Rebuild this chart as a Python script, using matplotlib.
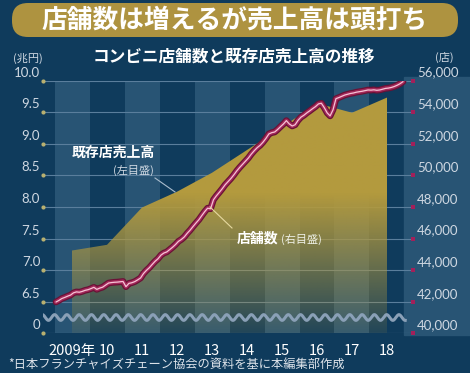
import numpy as np
import matplotlib.pyplot as plt
from matplotlib.patches import FancyBboxPatch, Rectangle
from matplotlib.lines import Line2D
from matplotlib.transforms import ScaledTranslation

plt.rcParams['font.family'] = ['Noto Sans CJK JP', 'DejaVu Sans']

# data
years = np.arange(2009, 2019)
year_labels = ['2009年', '10', '11', '12', '13', '14', '15', '16', '17', '18']
# existing-store sales, trillion yen (left axis)
sales = [7.31, 7.40, 7.99, 8.24, 8.54, 8.90, 9.26, 9.64, 9.49, 9.73]
# store count, monthly Jan 2009 - Dec 2018 (right axis)
stores = [
    41980, 42080, 42200, 42270, 42350, 42420, 42560, 42620, 42600, 42650, 42720, 42760,
    42830, 42910, 42780, 42860, 42920, 43050, 43180, 43210, 43230, 43240, 43260, 43280,
    42950, 43160, 43200, 43270, 43380, 43500, 43780, 43980, 44150, 44360, 44560, 44720,
    44950, 45080, 45150, 45300, 45450, 45620, 45820, 45940, 46100, 46330, 46530, 46760,
    46980, 47190, 47450, 47700, 47920, 47880, 48450, 48700, 48920, 49150, 49400, 49600,
    49800, 50030, 50280, 50500, 50700, 50900, 51100, 51350, 51560, 51750, 51900, 52100,
    52340, 52620, 52700, 52740, 52900, 53080, 53250, 53460, 53250, 53120, 53200, 53480,
    53680, 53800, 53950, 54080, 54220, 54350, 54520, 54560, 54280, 53950, 53760, 54150,
    54850, 54920, 55000, 55080, 55130, 55180, 55210, 55260, 55290, 55320, 55360, 55400,
    55390, 55410, 55380, 55400, 55450, 55500, 55520, 55560, 55620, 55700, 55800, 55930,
]
left_ticks = [6.0, 6.5, 7.0, 7.5, 8.0, 8.5, 9.0, 9.5, 10.0]
left_labels = ['0', '6.5', '7.0', '7.5', '8.0', '8.5', '9.0', '9.5', '10.0']
right_ticks = [40000, 42000, 44000, 46000, 48000, 50000, 52000, 54000, 56000]
right_labels = ['40,000', '42,000', '44,000', '46,000', '48,000', '50,000',
                '52,000', '54,000', '56,000']

BG = '#0f3b5c'
LIGHT = '#285474'
GRID = '#5a7e9c'
TXT = '#cfd8e2'

W, H = 470, 373
fig = plt.figure(figsize=(4.7, 3.73), dpi=100, facecolor=BG)
inch = fig.dpi_scale_trans


def P(x, y):
    # pixel position (from top-left) -> inches
    return x / 100, (H - y) / 100


# lighter panel behind right labels
fig.add_artist(Rectangle(P(404, 335), (W - 404) / 100, (335 - 77) / 100,
                         transform=inch, color=LIGHT, zorder=-1))

ax = fig.add_axes([43 / W, 1 - 333.3 / H, (413 - 43) / W, (333.3 - 80.5) / H])
ax.set_facecolor('none')
ax.set_xlim(2008.171, 2018.743)
ax.set_ylim(6.0, 10.0)
for s in ax.spines.values():
    s.set_visible(False)

for yr in years[::2]:
    ax.axvspan(yr - 0.5, yr + 0.5, color=LIGHT, zorder=0.2, lw=0)

ax.set_yticks(left_ticks, left_labels)
ax.grid(axis='y', color=GRID, lw=0.8, zorder=0.5)
ax.set_axisbelow(True)
ax.tick_params(axis='y', length=0, pad=2, labelsize=9.5, labelcolor=TXT)
for lab in ax.get_yticklabels():
    lab.set_fontfamily('Lato')
    lab.set_verticalalignment('bottom')
    lab.set_transform(lab.get_transform() + ScaledTranslation(0, 2 / 100, fig.dpi_scale_trans))

ax.set_xticks(years, year_labels)
ax.tick_params(axis='x', length=0, pad=8, labelsize=10.5, labelcolor='white')
for lab in ax.get_xticklabels():
    lab.set_fontfamily(['Liberation Sans Narrow', 'Noto Sans CJK JP'])

# sales area with vertical gradient
poly = ax.fill_between(years, sales, 6.0, facecolor='none', lw=0)
grad = np.zeros((256, 1, 4))
rgb = np.array([0xb3, 0x9a, 0x3e]) / 255
t = np.linspace(0, 1, 256)[:, None]  # 0 bottom -> 1 top
grad[..., :3] = rgb
grad[..., 3] = np.clip(0.12 + 1.6 * t, 0, 1)
im = ax.imshow(grad, extent=[2008.5, 2018.5, 6.0, 10.0], origin='lower',
               aspect='auto', zorder=1, interpolation='bilinear')
im.set_clip_path(poly.get_paths()[0], transform=ax.transData)

# wavy break mark
xw = np.linspace(2008.14, 2018.52, 800)
ax.plot(xw, 6.25 + 0.045 * np.sin(2 * np.pi * xw / (12.3 / 35)),
        color='#8aa0b7', lw=2.2, zorder=3)

# tick dots
ax.scatter([2008.171] * len(left_ticks), left_ticks, s=9, color='#b8b070',
           clip_on=False, zorder=5, lw=0)

ax2 = ax.twinx()
ax2.set_ylim(40000, 56000)
for s in ax2.spines.values():
    s.set_visible(False)
ax2.set_yticks(right_ticks, right_labels)
ax2.tick_params(axis='y', length=0, pad=3, labelsize=9.5, labelcolor=TXT)
for lab in ax2.get_yticklabels():
    lab.set_fontfamily('Lato')
    lab.set_verticalalignment('bottom')
    lab.set_transform(lab.get_transform() + ScaledTranslation(0, 2 / 100, fig.dpi_scale_trans))
ax2.scatter([2018.743] * len(right_ticks), right_ticks, s=7, marker='s',
            color='#a3205a', clip_on=False, zorder=5, lw=0)

xm = 2008.5 + (np.arange(len(stores)) + 0.5) / 12
ax2.plot(xm, stores, color='#6a1236', lw=4.8, solid_capstyle='round', solid_joinstyle='round')
ax2.plot(xm, stores, color='#a3295a', lw=3.0, solid_capstyle='round', solid_joinstyle='round')
ax2.plot(xm, stores, color='#f6c3d6', lw=0.9, solid_capstyle='round', solid_joinstyle='round')

# title banner
fig.add_artist(FancyBboxPatch(P(12, 37), (458 - 12) / 100, (37 - 3) / 100,
                              boxstyle='round,pad=0,rounding_size=0.16',
                              transform=inch, fc='#ae9340', ec='none'))
fig.text(*P(235, 20), '店舗数は増えるが売上高は頭打ち', transform=inch, ha='center',
         va='center', color='white', fontsize=18.5, fontweight='bold')

fig.text(*P(234, 57), 'コンビニ店舗数と既存店売上高の推移', transform=inch, ha='center',
         va='center', color='white', fontsize=12, fontweight='bold')
fig.text(*P(28, 58), '(兆円)', transform=inch, ha='center', va='center',
         color=TXT, fontsize=8)
fig.text(*P(444, 57), '(店)', transform=inch, ha='center', va='center',
         color=TXT, fontsize=8)

fig.text(*P(72, 153), '既存店売上高', transform=inch, ha='left', va='center',
         color='white', fontsize=10, fontweight='bold')
fig.text(*P(133, 170), '(左目盛)', transform=inch, ha='center', va='center',
         color=TXT, fontsize=8)
fig.add_artist(Line2D([155 / 100, 175 / 100], [(H - 178) / 100, (H - 192) / 100],
                      transform=inch, color='#a9bccd', lw=0.8))

fig.text(*P(237, 238), '店舗数', transform=inch, ha='left', va='center',
         color='white', fontsize=10, fontweight='bold')
fig.text(*P(281, 239), '(右目盛)', transform=inch, ha='left', va='center',
         color='#eef0e6', fontsize=8)
fig.add_artist(Line2D([210 / 100, 232 / 100], [(H - 207) / 100, (H - 228) / 100],
                      transform=inch, color='#e6d9a0', lw=0.8))

fig.text(*P(8, 364), '*日本フランチャイズチェーン協会の資料を基に本編集部作成',
         transform=inch, ha='left', va='center', color='#dde3ea', fontsize=8.8)

fig.savefig('out.png', dpi=100, facecolor=BG)
